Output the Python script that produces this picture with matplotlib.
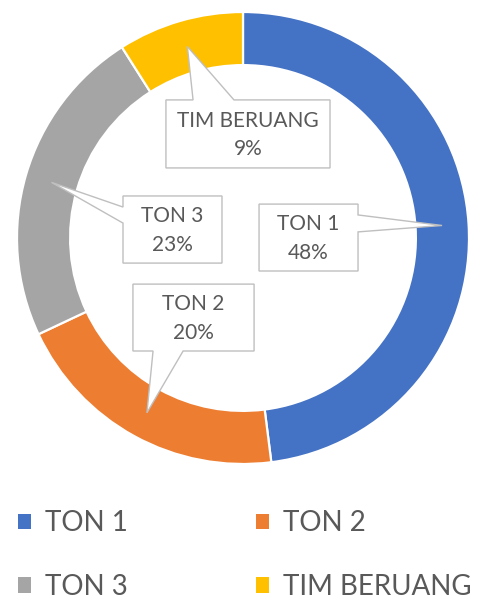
import matplotlib.pyplot as plt
import numpy as np
from matplotlib.patches import Polygon, Patch

plt.rcParams['font.family'] = ['Lato', 'DejaVu Sans']

# data
labels = ['TON 1', 'TON 2', 'TON 3', 'TIM BERUANG']
values = [48, 20, 23, 9]
colors = ['#4472C4', '#ED7D31', '#A5A5A5', '#FFC000']

# callout boxes (in units of the outer radius): x0, x1, y0, y1, side, base
boxes = [
    (0.071, 0.509, -0.146, 0.150, 'right', (0.027, 0.102)),
    (-0.487, 0.049, -0.500, -0.204, 'bottom', (-0.398, -0.265)),
    (-0.531, -0.093, -0.111, 0.186, 'left', (0.066, 0.137)),
    (-0.341, 0.385, 0.310, 0.611, 'top', (-0.221, -0.040)),
]

txt_color = '#595959'
ring_w = 0.235

fig = plt.figure(figsize=(4.85, 6.0), dpi=100)
ax = fig.add_axes([17 / 485, (600 - 464) / 600, 452 / 485, 452 / 600])

wedges, _ = ax.pie(values, colors=colors, startangle=90, counterclock=False,
                   radius=1.0, wedgeprops=dict(width=ring_w, edgecolor='white', linewidth=1.6))
ax.set_xlim(-1, 1)
ax.set_ylim(-1, 1)
ax.axis('off')


def callout(box, tip, text):
    x0, x1, y0, y1, side, (b0, b1) = box
    if side == 'top':
        pts = [(x0, y0), (x0, y1), (b0, y1), tip, (b1, y1), (x1, y1), (x1, y0)]
    elif side == 'bottom':
        pts = [(x0, y1), (x1, y1), (x1, y0), (b1, y0), tip, (b0, y0), (x0, y0)]
    elif side == 'left':
        pts = [(x0, y0), (x0, b0), tip, (x0, b1), (x0, y1), (x1, y1), (x1, y0)]
    else:
        pts = [(x1, y1), (x1, b1), tip, (x1, b0), (x1, y0), (x0, y0), (x0, y1)]
    ax.add_patch(Polygon(pts, closed=True, facecolor='white', edgecolor='#BFBFBF',
                         linewidth=1.0, zorder=5))
    ax.text((x0 + x1) / 2, (y0 + y1) / 2 - 0.005, text, ha='center', va='center',
            fontsize=15, color=txt_color, linespacing=1.55, zorder=6)


total = sum(values)
r_mid = 1 - ring_w / 2
for w, box, name, v in zip(wedges, boxes, labels, values):
    ang = np.deg2rad((w.theta1 + w.theta2) / 2)
    tip = (r_mid * np.cos(ang), r_mid * np.sin(ang))
    callout(box, tip, f"{name}\n{round(v / total * 100)}%")

# legend, row-major order
order = [0, 2, 1, 3]
handles = [Patch(facecolor=colors[i], edgecolor='none') for i in order]
fig.legend(handles, [labels[i] for i in order], ncol=2, loc='center left',
           bbox_to_anchor=(18 / 485, 1 - 555 / 600), bbox_transform=fig.transFigure,
           frameon=False, fontsize=20, labelcolor=txt_color, handlelength=0.47,
           handleheight=0.47, handletextpad=0.5, columnspacing=4.6,
           labelspacing=1.35, borderpad=0, borderaxespad=0)

fig.savefig('out.png', dpi=100)
